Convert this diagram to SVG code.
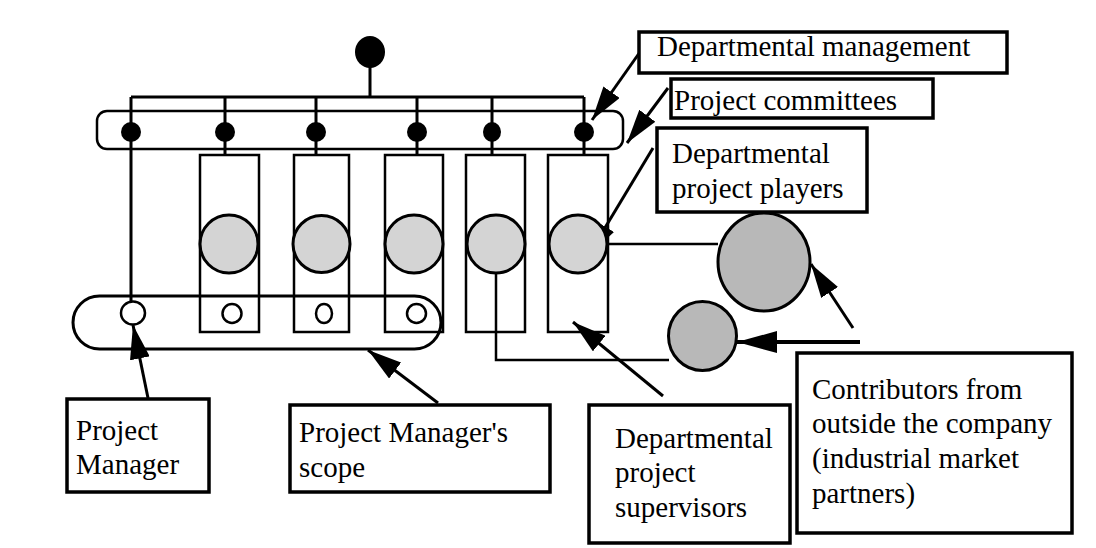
<svg xmlns="http://www.w3.org/2000/svg" width="1096" height="548" viewBox="0 0 1096 548">
<style>
.t{font-family:"Liberation Serif","DejaVu Serif",serif;font-size:29px;fill:#000}
.box{fill:#fff;stroke:#000;stroke-width:3.5}
.ln{fill:none;stroke:#000;stroke-width:3}
.thin{fill:none;stroke:#000;stroke-width:2.5}
.col{fill:#fff;stroke:#000;stroke-width:2.5}
.g1{fill:#d4d4d4;stroke:#000;stroke-width:3}
.g2{fill:#b8b8b8;stroke:#000;stroke-width:3}
.dot{fill:#000}
.open{fill:#fff;stroke:#000;stroke-width:2.5}
</style>
<defs>
<marker id="ah" viewBox="0 0 34 20" refX="34" refY="10" markerWidth="34" markerHeight="20" markerUnits="userSpaceOnUse" orient="auto">
<path d="M0,0 L34,10 L0,20 Z" fill="#000"/>
</marker>
<marker id="ahl" viewBox="0 0 40 22" refX="40" refY="11" markerWidth="40" markerHeight="22" markerUnits="userSpaceOnUse" orient="auto">
<path d="M0,0 L40,11 L0,22 Z" fill="#000"/>
</marker>
</defs>

<g id="columns">
<rect class="col" x="200" y="155" width="59" height="177"/>
<rect class="col" x="294" y="155" width="55" height="177"/>
<rect class="col" x="385" y="155" width="58" height="177"/>
<rect class="col" x="466" y="155" width="59" height="177"/>
<rect class="col" x="548" y="155" width="60" height="177"/>
</g>

<g id="committees">
<rect x="97" y="111" width="526" height="38" rx="10" fill="none" stroke="#000" stroke-width="2.5"/>
</g>

<g id="scope">
<rect x="73" y="296" width="368" height="53" rx="26.5" fill="none" stroke="#000" stroke-width="3"/>
</g>

<g id="connectors">
<path class="ln" d="M370,66 V97 M131,97 H584 M131,97 V302 M225,97 V155 M316,97 V155 M417,97 V155 M492,97 V155 M584,97 V155"/>
<path class="thin" d="M496,273 V360 H669"/>
<path class="thin" d="M608,244 H718"/>
<line class="ln" x1="640" y1="52" x2="592" y2="120" marker-end="url(#ah)"/>
<line class="ln" x1="668" y1="88" x2="627" y2="143" marker-end="url(#ah)"/>
<line class="ln" x1="653" y1="148" x2="588" y2="256" marker-end="url(#ah)"/>
<line class="ln" x1="148" y1="398" x2="133" y2="325" marker-end="url(#ah)"/>
<line class="ln" x1="438" y1="403" x2="368" y2="350" marker-end="url(#ah)"/>
<line class="ln" x1="663" y1="396" x2="573" y2="322" marker-end="url(#ah)"/>
<line class="ln" x1="853" y1="328" x2="811" y2="264" marker-end="url(#ah)"/>
<line x1="860" y1="342" x2="737" y2="342" stroke="#000" stroke-width="4" marker-end="url(#ahl)"/>
</g>

<g id="top-dot"><ellipse class="dot" cx="370" cy="52" rx="15" ry="16"/></g>
<g id="committee-dots">
<circle class="dot" cx="131" cy="132" r="10"/>
<circle class="dot" cx="225" cy="132" r="10"/>
<circle class="dot" cx="316" cy="132" r="10"/>
<circle class="dot" cx="417" cy="132" r="10"/>
<ellipse class="dot" cx="492" cy="132" rx="9" ry="10"/>
<circle class="dot" cx="584" cy="132" r="10"/>
</g>

<g id="players">
<circle class="g1" cx="229" cy="244" r="29"/>
<circle class="g1" cx="321.5" cy="244" r="28.5"/>
<circle class="g1" cx="414" cy="244" r="29"/>
<circle class="g1" cx="496" cy="244" r="29"/>
<circle class="g1" cx="578" cy="244" r="29"/>
</g>

<g id="manager-markers">
<ellipse class="open" cx="133" cy="313" rx="12" ry="11.5"/>
<ellipse class="open" cx="232" cy="313.5" rx="9.5" ry="9.5"/>
<ellipse class="open" cx="324" cy="313.5" rx="8" ry="9.5"/>
<ellipse class="open" cx="416.5" cy="313.5" rx="9.5" ry="9.5"/>
</g>

<g id="external">
<ellipse class="g2" cx="764" cy="262" rx="46" ry="49"/>
<ellipse class="g2" cx="702.5" cy="336" rx="34" ry="34.5"/>
</g>

<g id="lbl-dept-mgmt">
<rect class="box" x="639" y="32" width="368" height="41"/>
<text class="t" x="657" y="56">Departmental management</text>
</g>
<g id="lbl-committees">
<rect class="box" x="671" y="79" width="262" height="39"/>
<text class="t" x="674" y="110">Project committees</text>
</g>
<g id="lbl-players">
<rect class="box" x="657" y="128" width="210" height="84"/>
<text class="t" x="672" y="163">Departmental</text>
<text class="t" x="672" y="198">project players</text>
</g>
<g id="lbl-pm">
<rect class="box" x="67" y="399" width="142" height="93"/>
<text class="t" x="76" y="440">Project</text>
<text class="t" x="76" y="474">Manager</text>
</g>
<g id="lbl-scope">
<rect class="box" x="290" y="405" width="260" height="87"/>
<text class="t" x="299" y="442">Project Manager's</text>
<text class="t" x="299" y="477">scope</text>
</g>
<g id="lbl-supervisors">
<rect class="box" x="589" y="405" width="201" height="138"/>
<text class="t" x="615" y="448">Departmental</text>
<text class="t" x="615" y="482">project</text>
<text class="t" x="615" y="517">supervisors</text>
</g>
<g id="lbl-contributors">
<rect class="box" x="797" y="353" width="275" height="180"/>
<text class="t" x="812" y="399">Contributors from</text>
<text class="t" x="812" y="433">outside the company</text>
<text class="t" x="812" y="468">(industrial market</text>
<text class="t" x="812" y="503">partners)</text>
</g>
</svg>
